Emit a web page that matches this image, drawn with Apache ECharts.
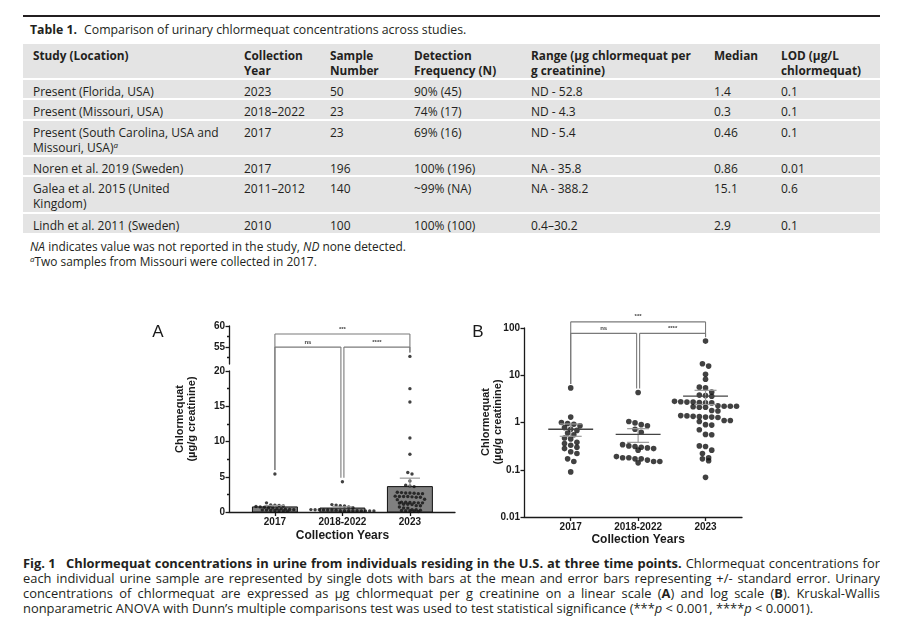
<!DOCTYPE html>
<html><head><meta charset="utf-8">
<script src="https://cdn.jsdelivr.net/npm/echarts/dist/echarts.min.js"></script>
<style>
html,body{margin:0;padding:0;}
body{width:898px;height:628px;background:#fff;position:relative;overflow:hidden;font-family:'Open Sans',Lato,sans-serif;color:#231f20;}
.rule{position:absolute;left:23px;top:15px;width:857px;height:2px;background:#231f20;}
.ttl{position:absolute;left:30px;top:22px;font-size:12.3px;line-height:16px;white-space:nowrap;}
.ttl b{display:inline-block;width:54px;}
.row{position:absolute;left:23px;width:857px;background:#e4e4e4;font-size:12px;line-height:15px;}
.row div{position:absolute;top:4px;white-space:nowrap;}
.hdr{font-weight:bold;font-size:11.8px;}
.c1{left:10px}.c2{left:221px}.c3{left:307px}.c4{left:391px}.c5{left:508px}.c6{left:691px}.c7{left:758px}
.notes{position:absolute;left:30px;top:239px;font-size:11.9px;line-height:15px;white-space:nowrap;}
sup{font-size:8px;line-height:0;font-style:italic;vertical-align:4px;}
#charts{position:absolute;left:0;top:300px;width:898px;height:255px;}
.cap{position:absolute;left:23px;width:857px;font-size:12.9px;line-height:15px;height:15px;overflow:hidden;text-align:justify;text-align-last:justify;}
.cap.last{text-align-last:left;}
.cap .fig{display:inline-block;width:43px;text-align-last:left;}
</style></head>
<body>
<div class="rule"></div>
<div class="ttl"><b>Table 1.</b>Comparison of urinary chlormequat concentrations across studies.</div>

<div class="row hdr" style="top:44px;height:34px">
  <div class="c1">Study (Location)</div><div class="c2">Collection<br>Year</div><div class="c3">Sample<br>Number</div>
  <div class="c4">Detection<br>Frequency (N)</div><div class="c5">Range (µg chlormequat per<br>g creatinine)</div>
  <div class="c6">Median</div><div class="c7">LOD (µg/L<br>chlormequat)</div>
</div>
<div class="row" style="top:80px;height:18px">
  <div class="c1">Present (Florida, USA)</div><div class="c2">2023</div><div class="c3">50</div><div class="c4">90% (45)</div><div class="c5">ND - 52.8</div><div class="c6">1.4</div><div class="c7">0.1</div>
</div>
<div class="row" style="top:100px;height:19px">
  <div class="c1">Present (Missouri, USA)</div><div class="c2">2018–2022</div><div class="c3">23</div><div class="c4">74% (17)</div><div class="c5">ND - 4.3</div><div class="c6">0.3</div><div class="c7">0.1</div>
</div>
<div class="row" style="top:121px;height:34px">
  <div class="c1">Present (South Carolina, USA and<br>Missouri, USA)<sup>a</sup></div><div class="c2">2017</div><div class="c3">23</div><div class="c4">69% (16)</div><div class="c5">ND - 5.4</div><div class="c6">0.46</div><div class="c7">0.1</div>
</div>
<div class="row" style="top:157px;height:18px">
  <div class="c1">Noren et al. 2019 (Sweden)</div><div class="c2">2017</div><div class="c3">196</div><div class="c4">100% (196)</div><div class="c5">NA - 35.8</div><div class="c6">0.86</div><div class="c7">0.01</div>
</div>
<div class="row" style="top:177px;height:35px">
  <div class="c1">Galea et al. 2015 (United<br>Kingdom)</div><div class="c2">2011–2012</div><div class="c3">140</div><div class="c4">~99% (NA)</div><div class="c5">NA - 388.2</div><div class="c6">15.1</div><div class="c7">0.6</div>
</div>
<div class="row" style="top:214px;height:19px">
  <div class="c1">Lindh et al. 2011 (Sweden)</div><div class="c2">2010</div><div class="c3">100</div><div class="c4">100% (100)</div><div class="c5">0.4–30.2</div><div class="c6">2.9</div><div class="c7">0.1</div>
</div>
<div class="notes"><i>NA</i> indicates value was not reported in the study, <i>ND</i> none detected.<br><sup>a</sup>Two samples from Missouri were collected in 2017.</div>

<div id="charts"></div>

<div class="cap" style="top:556px"><b><span class="fig">Fig. 1</span>Chlormequat concentrations in urine from individuals residing in the U.S. at three time points.</b> Chlormequat concentrations for</div>
<div class="cap" style="top:571px">each individual urine sample are represented by single dots with bars at the mean and error bars representing +/- standard error. Urinary</div>
<div class="cap" style="top:586px">concentrations of chlormequat are expressed as µg chlormequat per g creatinine on a linear scale (<b>A</b>) and log scale (<b>B</b>). Kruskal-Wallis</div>
<div class="cap last" style="top:601px">nonparametric ANOVA with Dunn’s multiple comparisons test was used to test statistical significance (***<i>p</i> &lt; 0.001, ****<i>p</i> &lt; 0.0001).</div>

<script>
// ---------------- data ----------------
const categories = ['2017', '2018-2022', '2023'];
const values2017 = [5.4, 1.3, 1.0, 0.95, 0.92, 0.85, 0.78, 0.72, 0.68, 0.6, 0.55, 0.47, 0.45, 0.38, 0.36, 0.33, 0.30, 0.28, 0.24, 0.22, 0.17, 0.15, 0.09];
const values2018to2022 = [4.3, 1.05, 0.98, 0.9, 0.85, 0.72, 0.62, 0.34, 0.32, 0.31, 0.30, 0.29, 0.28, 0.26, 0.19, 0.18, 0.18, 0.17, 0.17, 0.16, 0.15, 0.15, 0.14];
const values2023 = [52.8, 17.5, 15.6, 10.5, 8.2, 5.6, 5.4, 4.4,
  3.8, 3.7, 3.6,
  2.8, 2.75, 2.7, 2.7, 2.65, 2.6, 2.6,
  2.25, 2.2, 2.2, 2.15, 2.1, 2.1, 2.2,
  1.8, 1.75,
  1.4, 1.38, 1.35, 1.33, 1.3, 1.3, 1.28,
  1.1, 1.1, 1.05,
  0.9, 0.88, 0.7, 0.56, 0.55, 0.32, 0.31, 0.26, 0.22, 0.18, 0.17, 0.155, 0.069];
const meanValues = [0.72, 0.56, 3.6];
const seValues = [0.21, 0.18, 1.2];
const upperTicksA = [55, 60];
const upperMinorTicksA = [52.5, 57.5];
const lowerTicksA = [0, 5, 10, 15, 20];
const logTicksB = [0.01, 0.1, 1, 10, 100];
const bracketPairs = [[0, 2], [0, 1], [1, 2]];
const bracketLabels = ['***', 'ns', '****'];
const bracketLevelsA = [58.1, 55, 55];
const bracketLevelsB = [135, 77, 77];

// ---------------- chart ----------------
const groups = [values2017, values2018to2022, values2023];
const chart = echarts.init(document.getElementById('charts'), null, {renderer: 'canvas'});
const INK = '#1a1a1a';
const tickFont = {fontFamily: 'Liberation Sans', fontWeight: 'bold', fontSize: 10, color: INK};
const lineSt = {color: INK, width: 1.3};
const catIdx = [0, 1, 2];

chart.setOption({
  animation: false,
  grid: [
    {left: 229, top: 26, width: 226, height: 38, outerBoundsMode: 'none'},
    {left: 229, top: 71, width: 226, height: 141, outerBoundsMode: 'none'},
    {left: 524, top: 28, width: 218, height: 189, outerBoundsMode: 'none'}
  ],
  xAxis: [
    {gridIndex: 0, type: 'value', min: -0.68, max: 2.668, show: false},
    {gridIndex: 1, type: 'value', min: -0.68, max: 2.668,
      axisLine: {show: true, onZero: false, lineStyle: lineSt},
      axisTick: {show: true, customValues: catIdx, length: 4, lineStyle: lineSt},
      axisLabel: {customValues: catIdx, formatter: v => categories[Math.round(v)], margin: 5, ...tickFont},
      splitLine: {show: false}},
    {gridIndex: 2, type: 'value', min: -0.693, max: 2.541,
      axisLine: {show: true, onZero: false, lineStyle: lineSt},
      axisTick: {show: true, customValues: catIdx, length: 4, lineStyle: lineSt},
      axisLabel: {customValues: catIdx, formatter: v => categories[Math.round(v)], margin: 5, ...tickFont},
      splitLine: {show: false}}
  ],
  yAxis: [
    {gridIndex: 0, type: 'value', position: 'left', min: 51, max: 60,
      axisLine: {show: true, onZero: false, lineStyle: lineSt},
      axisTick: {show: true, customValues: upperTicksA, length: 3.5, lineStyle: lineSt},
      axisLabel: {customValues: upperTicksA, margin: 4, ...tickFont},
      splitLine: {show: false}},
    {gridIndex: 0, type: 'value', position: 'left', offset: 0, min: 51, max: 60,
      axisLine: {show: false, onZero: false},
      axisTick: {show: true, customValues: upperMinorTicksA, length: 2, lineStyle: lineSt},
      axisLabel: {show: false}, splitLine: {show: false}},
    {gridIndex: 1, type: 'value', position: 'left', min: 0, max: 20, interval: 5,
      axisLine: {show: true, onZero: false, lineStyle: lineSt},
      axisTick: {show: true, length: 3.5, lineStyle: lineSt},
      minorTick: {show: true, splitNumber: 2, length: 2, lineStyle: lineSt},
      axisLabel: {margin: 4, ...tickFont},
      splitLine: {show: false}, minorSplitLine: {show: false}},
    {gridIndex: 2, type: 'log', position: 'left', logBase: 10, min: 0.01, max: 100,
      axisLine: {show: true, onZero: false, lineStyle: lineSt},
      axisTick: {show: true, length: 3.5, lineStyle: lineSt},
      axisLabel: {margin: 4, formatter: v => String(Number(Number(v).toPrecision(3))), ...tickFont},
      splitLine: {show: false}}
  ]
});

const FA_UP = {xAxisIndex: 0, yAxisIndex: 0};
const FA_LO = {xAxisIndex: 1, yAxisIndex: 2};
const FB = {xAxisIndex: 2, yAxisIndex: 3};
const finderA = v => v > 20 ? FA_UP : FA_LO;

function swarm(pys, binH, gap) {
  const idx = pys.map((p, i) => i).sort((a, b) => pys[a] - pys[b]);
  const off = new Array(pys.length).fill(0);
  let i = 0;
  while (i < idx.length) {
    const y0 = pys[idx[i]];
    let j = i;
    while (j < idx.length && pys[idx[j]] - y0 < binH) j++;
    const n = j - i;
    for (let k = 0; k < n; k++) off[idx[i + k]] = (k - (n - 1) / 2) * gap;
    i = j;
  }
  return off;
}

const ppuA = chart.convertToPixel(FA_LO, [1, 0])[0] - chart.convertToPixel(FA_LO, [0, 0])[0];
const ppuB = chart.convertToPixel(FB, [1, 1])[0] - chart.convertToPixel(FB, [0, 1])[0];

const dotsAUp = [], dotsALo = [], dotsB = [];
groups.forEach((vals, g) => {
  const pyA = vals.map(v => chart.convertToPixel(finderA(v), [0, v])[1]);
  const offA = swarm(pyA, 3.2, 4.2);
  vals.forEach((v, k) => (v > 20 ? dotsAUp : dotsALo).push([g + offA[k] / ppuA, v]));
  const pyB = vals.map(v => chart.convertToPixel(FB, [0, v])[1]);
  const offB = swarm(pyB, 5.0, 6.2);
  vals.forEach((v, k) => dotsB.push([g + offB[k] / ppuB, v]));
});

// brackets
const graphics = [];
function addBrackets(levels, levelFinder, ppu, topOf) {
  bracketPairs.forEach((pr, b) => {
    const yL = chart.convertToPixel(levelFinder, [0, levels[b]])[1];
    const xs = pr.map(g => chart.convertToPixel(levelFinder, [g, levels[b]])[0]);
    const adj = [pr[0] === 1 ? 1.5 : 0, pr[1] === 1 ? -1.5 : 0];
    const x1 = xs[0] + adj[0], x2 = xs[1] + adj[1];
    const st = {stroke: '#7a7a7a', lineWidth: 1.1};
    graphics.push({type: 'line', shape: {x1: x1, y1: yL, x2: x2, y2: yL}, style: st, z: 10});
    [x1, x2].forEach((x, e) => {
      const bottom = topOf(pr[e]) - 4;
      graphics.push({type: 'line', shape: {x1: x, y1: yL, x2: x, y2: bottom}, style: st, z: 10});
    });
    graphics.push({type: 'text', x: (x1 + x2) / 2, y: yL - 2,
      style: {text: bracketLabels[b], font: 'bold 6px Liberation Sans', fill: '#444', textAlign: 'center', textVerticalAlign: 'bottom'}, z: 10});
  });
}
const maxOf = g => Math.max.apply(null, groups[g]);
addBrackets(bracketLevelsA, FA_UP, ppuA, g => chart.convertToPixel(finderA(maxOf(g)), [0, maxOf(g)])[1]);
addBrackets(bracketLevelsB, FB, ppuB, g => chart.convertToPixel(FB, [0, maxOf(g)])[1]);

// text annotations
const nameFont = 'bold 11px Liberation Sans';
graphics.push({type: 'text', x: 158, y: 32, style: {text: 'A', font: '17px Liberation Sans', fill: INK, textAlign: 'center', textVerticalAlign: 'middle'}});
graphics.push({type: 'text', x: 478, y: 32, style: {text: 'B', font: '17px Liberation Sans', fill: INK, textAlign: 'center', textVerticalAlign: 'middle'}});
graphics.push({type: 'text', x: 186, y: 119, rotation: Math.PI / 2,
  style: {text: 'Chlormequat\n(µg/g creatinine)', font: nameFont, lineHeight: 12, fill: INK, textAlign: 'center', textVerticalAlign: 'middle'}});
graphics.push({type: 'text', x: 492, y: 122, rotation: Math.PI / 2,
  style: {text: 'Chlormequat\n(µg/g creatinine)', font: nameFont, lineHeight: 12, fill: INK, textAlign: 'center', textVerticalAlign: 'middle'}});
graphics.push({type: 'text', x: chart.convertToPixel(FA_LO, [1, 0])[0], y: 236,
  style: {text: 'Collection Years', font: 'bold 12px Liberation Sans', fill: INK, textAlign: 'center', textVerticalAlign: 'middle'}});
graphics.push({type: 'text', x: chart.convertToPixel(FB, [1, 1])[0], y: 240,
  style: {text: 'Collection Years', font: 'bold 12px Liberation Sans', fill: INK, textAlign: 'center', textVerticalAlign: 'middle'}});

const meanData = meanValues.map((m, i) => [i, m, seValues[i]]);

chart.setOption({
  series: [
    {type: 'custom', xAxisIndex: 1, yAxisIndex: 2, z: 1, data: meanData,
      renderItem: (params, api) => {
        const i = api.value(0), m = api.value(1);
        const p1 = api.coord([i - 0.333, m]), p2 = api.coord([i + 0.333, 0]);
        return {type: 'rect', shape: {x: p1[0], y: p1[1], width: p2[0] - p1[0], height: p2[1] - p1[1]},
          style: {fill: '#808080', stroke: '#111', lineWidth: 1}};
      }},
    {type: 'scatter', xAxisIndex: 1, yAxisIndex: 2, z: 2, symbol: 'circle', symbolSize: 3.4,
      itemStyle: {color: '#111'}, data: dotsALo},
    {type: 'scatter', xAxisIndex: 0, yAxisIndex: 0, z: 2, symbol: 'circle', symbolSize: 3.4,
      itemStyle: {color: '#111'}, data: dotsAUp},
    {type: 'custom', xAxisIndex: 1, yAxisIndex: 2, z: 3, data: meanData,
      renderItem: (params, api) => {
        const i = api.value(0), m = api.value(1), se = api.value(2);
        const a = api.coord([i, m]), b = api.coord([i, m + se]);
        const c1 = api.coord([i - 0.15, m + se]), c2 = api.coord([i + 0.15, m + se]);
        const st = {stroke: '#9a9a9a', lineWidth: 1.2};
        return {type: 'group', children: [
          {type: 'line', shape: {x1: a[0], y1: a[1], x2: b[0], y2: b[1]}, style: st},
          {type: 'line', shape: {x1: c1[0], y1: c1[1], x2: c2[0], y2: c2[1]}, style: st}
        ]};
      }},
    {type: 'scatter', xAxisIndex: 2, yAxisIndex: 3, z: 2, symbol: 'circle', symbolSize: 5.6,
      itemStyle: {color: '#111'}, data: dotsB},
    {type: 'custom', xAxisIndex: 2, yAxisIndex: 3, z: 3, data: meanData,
      renderItem: (params, api) => {
        const i = api.value(0), m = api.value(1), se = api.value(2);
        const ml = api.coord([i - 0.333, m]), mr = api.coord([i + 0.333, m]);
        const hi = api.coord([i, m + se]), lo = api.coord([i, m - se]);
        const h1 = api.coord([i - 0.163, m + se]), h2 = api.coord([i + 0.163, m + se]);
        const l1 = api.coord([i - 0.163, m - se]), l2 = api.coord([i + 0.163, m - se]);
        const st = {stroke: '#9a9a9a', lineWidth: 1.2};
        return {type: 'group', children: [
          {type: 'line', shape: {x1: hi[0], y1: hi[1], x2: lo[0], y2: lo[1]}, style: st},
          {type: 'line', shape: {x1: h1[0], y1: h1[1], x2: h2[0], y2: h2[1]}, style: st},
          {type: 'line', shape: {x1: l1[0], y1: l1[1], x2: l2[0], y2: l2[1]}, style: st},
          {type: 'line', shape: {x1: ml[0], y1: ml[1], x2: mr[0], y2: mr[1]}, style: {stroke: '#444', lineWidth: 1.3}}
        ]};
      }}
  ],
  graphic: {elements: graphics}
});
</script>
</body></html>
